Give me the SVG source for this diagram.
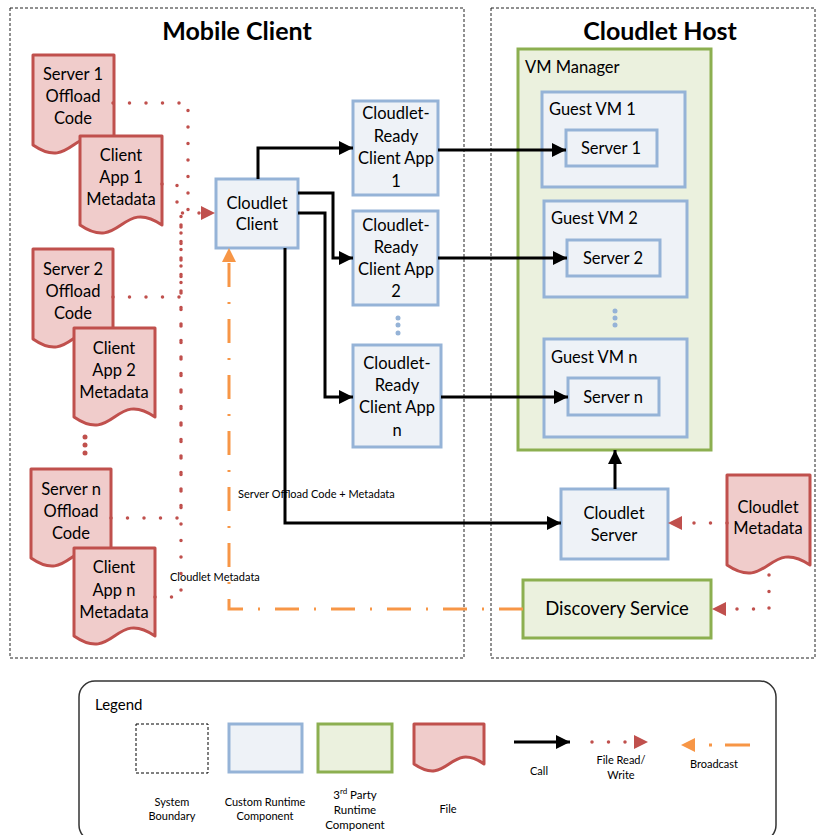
<svg xmlns="http://www.w3.org/2000/svg" width="817" height="835" viewBox="0 0 817 835">
<style>
text{font-family:Lato,"Liberation Sans",sans-serif;fill:#000}
.t{font-size:16.5px;text-anchor:middle}
.tl{font-size:16.5px}
.s{font-size:11px}
.lg{font-size:11px;text-anchor:middle}
.title{font-size:25px;font-weight:bold;text-anchor:middle}
.bnd{fill:none;stroke:#222;stroke-width:1;stroke-dasharray:3 2}
.blue{fill:#EEF2F7;stroke:#95B3D7;stroke-width:3}
.green{fill:#EBF1DE;stroke:#8CAF50;stroke-width:3}
.file{fill:#F0CCCB;stroke:#C0504D;stroke-width:3;stroke-linejoin:round}
.call{fill:none;stroke:#000;stroke-width:3}
.rw{fill:none;stroke:#C0504D;stroke-width:3.5;stroke-linecap:round;stroke-dasharray:0 16.5}
.bc{fill:none;stroke:#F79646;stroke-width:3;stroke-dasharray:24 15 2 15}
.bdot{fill:#95B3D7}
.rdot{fill:#C0504D}
</style>
<defs>
<marker id="ah" markerUnits="userSpaceOnUse" markerWidth="16" markerHeight="16" viewBox="0 0 16 16" refX="15" refY="8" orient="auto"><path d="M1,1 L15,8 L1,15 Z" fill="#000"/></marker>
<marker id="ar" markerUnits="userSpaceOnUse" markerWidth="16" markerHeight="16" viewBox="0 0 16 16" refX="15" refY="8" orient="auto"><path d="M1,1 L15,8 L1,15 Z" fill="#C0504D"/></marker>
<marker id="ao" markerUnits="userSpaceOnUse" markerWidth="16" markerHeight="16" viewBox="0 0 16 16" refX="15" refY="8" orient="auto"><path d="M1,1 L15,8 L1,15 Z" fill="#F79646"/></marker>
</defs>
<rect width="817" height="835" fill="#fff"/>

<g id="mobile-client-boundary">
<rect class="bnd" x="10" y="8" width="454" height="650"/>
<text class="title" x="237" y="40">Mobile Client</text>
</g>
<g id="cloudlet-host-boundary">
<rect class="bnd" x="491" y="8" width="324" height="650"/>
<text class="title" x="660" y="40">Cloudlet Host</text>
</g>

<g id="server1-offload-code">
<path class="file" d="M33,55 H114 V145 C73.5,117 73.5,173 33,145 Z"/>
<text class="t" x="73" y="80">Server 1</text><text class="t" x="73" y="102">Offload</text><text class="t" x="73" y="124">Code</text>
</g>
<g id="client-app1-metadata">
<path class="file" d="M80,136 H162 V225 C121,197 121,253 80,225 Z"/>
<text class="t" x="121" y="161">Client</text><text class="t" x="121" y="183">App 1</text><text class="t" x="121" y="205">Metadata</text>
</g>
<g id="server2-offload-code">
<path class="file" d="M33,249 H113 V339 C73,311 73,367 33,339 Z"/>
<text class="t" x="73" y="275">Server 2</text><text class="t" x="73" y="297">Offload</text><text class="t" x="73" y="319">Code</text>
</g>
<g id="client-app2-metadata">
<path class="file" d="M74,328 H155 V417 C114.5,389 114.5,445 74,417 Z"/>
<text class="t" x="114" y="354">Client</text><text class="t" x="114" y="376">App 2</text><text class="t" x="114" y="398">Metadata</text>
</g>
<g id="file-ellipsis">
<circle class="rdot" cx="85" cy="437" r="2.5"/><circle class="rdot" cx="85" cy="445" r="2.5"/><circle class="rdot" cx="85" cy="453" r="2.5"/>
</g>
<g id="servern-offload-code">
<path class="file" d="M31,469 H111 V558 C71,530 71,586 31,558 Z"/>
<text class="t" x="71" y="495">Server n</text><text class="t" x="71" y="517">Offload</text><text class="t" x="71" y="539">Code</text>
</g>
<g id="client-appn-metadata">
<path class="file" d="M74,548 H155 V636 C114.5,608 114.5,664 74,636 Z"/>
<text class="t" x="114" y="573">Client</text><text class="t" x="114" y="596">App n</text><text class="t" x="114" y="618">Metadata</text>
</g>

<g id="cloudlet-client">
<rect class="blue" x="216" y="179" width="82" height="69"/>
<text class="t" x="257" y="209">Cloudlet</text><text class="t" x="257" y="230">Client</text>
</g>
<g id="cloudlet-ready-app1">
<rect class="blue" x="353" y="101" width="85" height="94"/>
<text class="t" x="396" y="119">Cloudlet-</text><text class="t" x="396" y="142">Ready</text><text class="t" x="396" y="164">Client App</text><text class="t" x="396" y="187">1</text>
</g>
<g id="cloudlet-ready-app2">
<rect class="blue" x="353" y="211" width="85" height="94"/>
<text class="t" x="396" y="231">Cloudlet-</text><text class="t" x="396" y="253">Ready</text><text class="t" x="396" y="275">Client App</text><text class="t" x="396" y="297">2</text>
</g>
<g id="app-ellipsis">
<circle class="bdot" cx="398" cy="318" r="2.5"/><circle class="bdot" cx="398" cy="325" r="2.5"/><circle class="bdot" cx="398" cy="333" r="2.5"/>
</g>
<g id="cloudlet-ready-appn">
<rect class="blue" x="353" y="345" width="88" height="102"/>
<text class="t" x="397" y="369">Cloudlet-</text><text class="t" x="397" y="391">Ready</text><text class="t" x="397" y="413">Client App</text><text class="t" x="397" y="436">n</text>
</g>

<g id="vm-manager">
<rect class="green" x="518" y="49" width="193" height="401"/>
<text class="tl" x="525" y="73">VM Manager</text>
</g>
<g id="guest-vm1">
<rect class="blue" x="542" y="92" width="143" height="95"/>
<text class="tl" x="549" y="115">Guest VM 1</text>
</g>
<g id="server1">
<rect class="blue" x="566" y="130" width="91" height="36"/>
<text class="t" x="611" y="154">Server 1</text>
</g>
<g id="guest-vm2">
<rect class="blue" x="544" y="201" width="143" height="96"/>
<text class="tl" x="551" y="224">Guest VM 2</text>
</g>
<g id="server2">
<rect class="blue" x="567" y="240" width="93" height="36"/>
<text class="t" x="613" y="264">Server 2</text>
</g>
<g id="vm-ellipsis">
<circle class="bdot" cx="615" cy="311" r="2.5"/><circle class="bdot" cx="615" cy="318" r="2.5"/><circle class="bdot" cx="615" cy="325" r="2.5"/>
</g>
<g id="guest-vmn">
<rect class="blue" x="544" y="339" width="143" height="98"/>
<text class="tl" x="551" y="363">Guest VM n</text>
</g>
<g id="servern">
<rect class="blue" x="568" y="378" width="91" height="37"/>
<text class="t" x="613" y="403">Server n</text>
</g>
<g id="cloudlet-server">
<rect class="blue" x="561" y="489" width="107" height="70"/>
<text class="t" x="614" y="519">Cloudlet</text><text class="t" x="614" y="541">Server</text>
</g>
<g id="discovery-service">
<rect class="green" x="523" y="580" width="188" height="58"/>
<text class="t" x="617" y="615" style="font-size:18.5px">Discovery Service</text>
</g>
<g id="cloudlet-metadata">
<path class="file" d="M727,475 H810 V565 C768.5,537 768.5,593 727,565 Z"/>
<text class="t" x="768" y="513">Cloudlet</text><text class="t" x="768" y="534">Metadata</text>
</g>

<g id="connectors">
<path class="rw" d="M113,103 H188 V213 H200"/>
<path class="rw" d="M162,184 H177 V213 H200"/>
<path class="rw" d="M113,297 H181 V213"/>
<path class="rw" d="M111,518 H181 V213"/>
<path class="rw" d="M155,597 H181 V213"/>
<path d="M200,213 H215" stroke="none" fill="none" marker-end="url(#ar)"/>
<path class="rw" d="M727,523 H690"/>
<path d="M683,523 H668" fill="none" marker-end="url(#ar)"/>
<path class="rw" d="M769,575 V609 H731"/>
<path d="M726,609 H712" fill="none" marker-end="url(#ar)"/>
<path class="bc" d="M523,609 H229 V262"/>
<path d="M229,263 V248" fill="none" marker-end="url(#ao)"/>
<path class="call" d="M258,179 V148 H353" marker-end="url(#ah)"/>
<path class="call" d="M298,193 H333 V258 H353" marker-end="url(#ah)"/>
<path class="call" d="M298,213 H325 V397 H353" marker-end="url(#ah)"/>
<path class="call" d="M285,248 V523 H561" marker-end="url(#ah)"/>
<path class="call" d="M438,150 H566" marker-end="url(#ah)"/>
<path class="call" d="M438,258 H567" marker-end="url(#ah)"/>
<path class="call" d="M441,397 H568" marker-end="url(#ah)"/>
<path class="call" d="M615,489 V450" marker-end="url(#ah)"/>
</g>

<g id="edge-labels">
<text class="s" x="238" y="498">Server Offload Code + Metadata</text>
<text class="s" x="170" y="581">Cloudlet Metadata</text>
</g>

<g id="legend">
<rect x="79" y="681" width="697" height="160" rx="16" fill="none" stroke="#333" stroke-width="1.5"/>
<text x="95" y="710" style="font-size:15px">Legend</text>
<rect x="136" y="724" width="72" height="49" fill="none" stroke="#000" stroke-width="1" stroke-dasharray="3 2"/>
<text class="lg" x="172" y="806">System</text><text class="lg" x="172" y="820">Boundary</text>
<rect class="blue" x="229" y="724" width="73" height="48"/>
<text class="lg" x="265" y="806">Custom Runtime</text><text class="lg" x="265" y="820">Component</text>
<rect class="green" x="318" y="724" width="74" height="48"/>
<text class="lg" x="355" y="799" style="font-size:11.5px">3<tspan style="font-size:8px" baseline-shift="super">rd</tspan> Party</text><text class="lg" x="355" y="814" style="font-size:11.5px">Runtime</text><text class="lg" x="355" y="829" style="font-size:11.5px">Component</text>
<path class="file" d="M414,724 H484 V764 C449,740 449,788 414,764 Z"/>
<text class="lg" x="448" y="813">File</text>
<path class="call" d="M514,742 H570" marker-end="url(#ah)"/>
<text class="lg" x="539" y="775">Call</text>
<path class="rw" d="M592,742 H628"/>
<path d="M634,742 H648" fill="none" marker-end="url(#ar)"/>
<text class="lg" x="621" y="764">File Read/</text><text class="lg" x="621" y="779">Write</text>
<path d="M696,745 H681" fill="none" marker-end="url(#ao)"/>
<path d="M709,745 H712 M725,745 H750" fill="none" stroke="#F79646" stroke-width="3"/>
<text class="lg" x="714" y="768">Broadcast</text>
</g>
</svg>
